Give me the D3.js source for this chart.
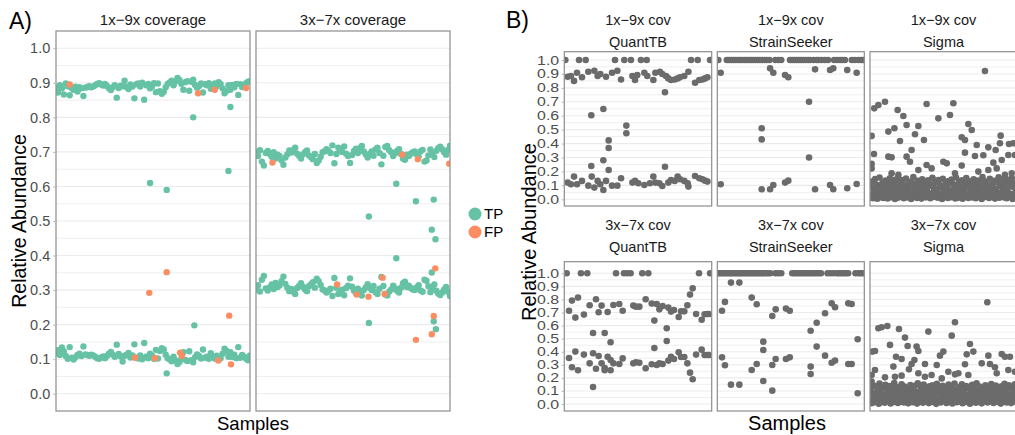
<!DOCTYPE html>
<html><head><meta charset="utf-8">
<script src="https://cdn.jsdelivr.net/npm/d3@7"></script>
<style>
body{margin:0;background:#fff;}
svg{display:block;font-family:"Liberation Sans",Arial,Helvetica,sans-serif;}
</style></head><body>
<svg id="chart" width="1015" height="435"></svg>
<script>
// ---------------- DATA ----------------
const tickLabels = [0,0.1,0.2,0.3,0.4,0.5,0.6,0.7,0.8,0.9,1.0];
const panelATitles = ["1x\u22129x coverage","3x\u22127x coverage"];
const panelBRows = ["1x\u22129x cov","3x\u22127x cov"];
const panelBTools = ["QuantTB","StrainSeeker","Sigma"];
const legendLabels = ["TP","FP"];

// Panel A, 1x-9x: per-sample major / minor strain abundance (TP)
const a1Major = [
0.886,0.872,0.893,0.884,0.866,0.898,0.890,0.864,0.885,0.880,
0.889,0.875,0.887,0.884,0.862,0.886,0.888,0.890,0.887,0.889,
0.893,0.897,0.899,0.895,0.892,0.897,0.891,0.884,0.879,0.887,
0.893,0.857,0.885,0.892,0.890,0.906,0.888,0.882,0.895,0.889,
0.855,0.896,0.898,0.889,0.900,0.851,0.893,0.897,0.884,0.889,
0.899,0.873,0.898,0.876,0.868,0.874,0.887,0.897,0.901,0.906,
0.893,0.904,0.914,0.908,0.897,0.880,0.902,0.905,0.877,0.903,
0.909,0.894,0.886,0.891,0.898,0.872,0.896,0.893,0.899,0.883,
0.894,0.898,0.890,0.902,0.897,0.884,0.870,0.876,0.893,0.880,
0.894,0.887,0.897,0.865,0.896,0.888,0.893,0.899,0.903,0.905];
const a1Minor = [
0.118,0.126,0.112,0.134,0.123,0.109,0.101,0.135,0.104,0.099,
0.106,0.112,0.116,0.109,0.137,0.114,0.112,0.110,0.113,0.111,
0.107,0.103,0.101,0.105,0.108,0.103,0.109,0.116,0.121,0.113,
0.107,0.142,0.115,0.108,0.093,0.110,0.112,0.118,0.105,0.111,
0.143,0.104,0.102,0.111,0.100,0.147,0.107,0.103,0.116,0.111,
0.101,0.127,0.102,0.124,0.132,0.128,0.113,0.103,0.099,0.094,
0.107,0.096,0.086,0.092,0.103,0.120,0.098,0.095,0.123,0.097,
0.091,0.106,0.114,0.109,0.102,0.128,0.104,0.107,0.101,0.117,
0.106,0.102,0.110,0.098,0.103,0.116,0.130,0.124,0.107,0.120,
0.106,0.113,0.103,0.135,0.104,0.112,0.107,0.101,0.097,0.111];
// [sample, abundance, class]
const a1Extra = [
[48,0.61,"TP"],[56.5,0.59,"TP"],[70,0.80,"TP"],[88,0.645,"TP"],[89,0.83,"TP"],[70.6,0.198,"TP"],[56.5,0.059,"TP"],
[7,0.895,"FP"],[72.5,0.87,"FP"],[81,0.88,"FP"],[97,0.885,"FP"],[47.6,0.292,"FP"],[56.5,0.352,"FP"],[88.4,0.226,"FP"],
[89.3,0.085,"FP"],[40.3,0.104,"FP"],[50.5,0.103,"FP"],[63.3,0.119,"FP"],[64.3,0.109,"FP"],[82.8,0.096,"FP"]];

// Panel A, 3x-7x
const a2Major = [
0.700,0.688,0.705,0.672,0.661,0.697,0.703,0.694,0.686,0.699,
0.681,0.692,0.688,0.676,0.663,0.684,0.693,0.704,0.698,0.706,
0.712,0.695,0.689,0.681,0.693,0.699,0.704,0.690,0.685,0.679,
0.694,0.668,0.675,0.686,0.699,0.702,0.708,0.703,0.697,0.719,
0.667,0.694,0.712,0.706,0.700,0.716,0.695,0.688,0.668,0.691,
0.703,0.709,0.697,0.711,0.717,0.701,0.693,0.684,0.694,0.701,
0.689,0.707,0.712,0.697,0.664,0.689,0.714,0.717,0.705,0.699,
0.688,0.696,0.703,0.708,0.694,0.681,0.677,0.692,0.688,0.695,
0.699,0.701,0.693,0.687,0.702,0.706,0.672,0.675,0.690,0.707,
0.694,0.685,0.703,0.711,0.715,0.708,0.699,0.692,0.706,0.718];
const a2Minor = [
0.302,0.314,0.296,0.330,0.341,0.305,0.299,0.308,0.316,0.303,
0.321,0.309,0.313,0.326,0.339,0.318,0.307,0.297,0.303,0.295,
0.289,0.306,0.312,0.320,0.309,0.302,0.297,0.311,0.316,0.323,
0.307,0.333,0.326,0.315,0.302,0.299,0.293,0.298,0.304,0.283,
0.335,0.307,0.289,0.295,0.301,0.285,0.306,0.313,0.334,0.310,
0.298,0.292,0.304,0.290,0.284,0.300,0.308,0.317,0.307,0.300,
0.312,0.294,0.289,0.304,0.338,0.312,0.287,0.284,0.296,0.302,
0.313,0.305,0.298,0.293,0.307,0.320,0.324,0.309,0.313,0.306,
0.302,0.300,0.308,0.314,0.299,0.295,0.330,0.327,0.311,0.294,
0.307,0.316,0.298,0.290,0.286,0.293,0.302,0.309,0.295,0.283];
const a2Extra = [
[57.6,0.513,"TP"],[71.6,0.608,"TP"],[81.6,0.557,"TP"],[90.7,0.562,"TP"],[89.7,0.475,"TP"],[91.6,0.447,"TP"],
[71.6,0.392,"TP"],[89.7,0.351,"TP"],[57.6,0.205,"TP"],[90.7,0.21,"TP"],[91.8,0.187,"TP"],
[8.4,0.669,"FP"],[74.6,0.692,"FP"],[82.6,0.679,"FP"],[98.6,0.666,"FP"],[91.5,0.363,"FP"],[64.6,0.336,"FP"],
[41.4,0.316,"FP"],[51.4,0.287,"FP"],[57.4,0.281,"FP"],[65.6,0.289,"FP"],[90.7,0.225,"FP"],[89.7,0.172,"FP"],[81.6,0.156,"FP"]];

// Panel B, 1x-9x  [sample, abundance]
const qt1 = [
[0.7,1],[10,1],[14.5,1],[34.4,1],[40.7,1],[45.2,1],[52,1],[55.9,1],[86,1],[90.5,1],[98.9,1],
[2.3,.88],[4.5,.885],[6.6,.85],[8.6,.909],[12,.876],[16.3,.916],[20.4,.923],[22.6,.885],[24.4,.9],[28.3,.88],
[32.4,.909],[36,.923],[38.5,.86],[46.2,.885],[48,.856],[49.5,.892],[54.3,.909],[56.3,.885],[60.4,.856],[61.8,.909],
[64.9,.916],[66.5,.9],[69,.885],[70.6,.868],[72.4,.856],[74.9,.86],[76.9,.868],[78.5,.876],[81.4,.885],[84.2,.916],
[88.7,.837],[91.6,.856],[93.7,.86],[95.5,.868],[97.1,.876],[68.3,.768],
[18.3,.603],[26.5,.648],[30.1,.423],[30.1,.368],[30.1,.21],[42.1,.529],[42.1,.474],[18.3,.239],[26.5,.28],[68.3,.234],
[2.3,.12],[4.5,.108],[6.6,.163],[8.6,.108],[12,.132],[16.3,.098],[18.6,.163],[20.4,.084],[22.6,.132],[24.4,.108],
[26.5,.067],[28.3,.132],[32.4,.098],[36,.098],[38.5,.151],[46.2,.12],[48,.132],[50.2,.115],[54.3,.103],[58.1,.115],
[60.4,.163],[61.8,.12],[64.5,.115],[66.5,.096],[70.6,.12],[72.4,.139],[74.9,.132],[76.9,.163],[78.5,.144],[81.4,.132],
[83.7,.115],[84.2,.091],[88.7,.167],[91.6,.151],[93.7,.144],[95.5,.134],[97.1,.127]];
const ss1Full = [0.7,6.5,8,9.5,11,12.5,14,15.5,17,18.5,20,21.5,23,24.5,26,27.5,29,30.5,32,33.5,35.5,
39.5,41.5,43.5,49.5,51,52.5,54,55.5,57,58.5,60,61.8,63.2,65.5,67.5,69,71,73,75.3,79.5,81.5,83.5,85,86.8,91.5,93.5,96,98,99.3];
const ss1 = [
[2.3,.909],[2.3,.108],[30.2,.51],[30.2,.43],[30.2,.072],[35.9,.94],[35.9,.072],[38.1,.909],[38.1,.103],
[46.1,.892],[46.1,.12],[48.3,.876],[48.3,.134],[62.4,.7],[62.4,.3],[66.5,.933],[66.5,.072],[76.7,.928],[76.7,.103],
[78.9,.94],[78.9,.072],[88.4,.928],[88.4,.079],[94.8,.909],[94.8,.11]];
const sg1 = [
[78.2,.921],[2.9,.653],[5.7,.677],[10.2,.7],[38.5,.684],[56.7,.689],[18.8,.641],[22.7,.598],[46.5,.581],[54.4,.605],
[1.1,.455],[12.5,.486],[16.6,.51],[24.9,.533],[32.9,.526],[20.4,.419],[30.6,.467],[36.7,.426],[66.9,.541],[69.2,.498],
[62.4,.445],[64.6,.426],[72.6,.39],[80.5,.373],[88.9,.457],[88.4,.402],[85.5,.354],[94.6,.397],[97.5,.402],[98.6,.318],
[2.7,.325],[12.5,.306],[14.7,.301],[24.9,.306],[27.2,.27],[28.3,.354],[64.6,.335],[71.4,.311],[77.1,.316],[83.9,.263],
[89.6,.282],[94.1,.318],[49.9,.27],[52.2,.258],[62.4,.242],[1.1,.254],[1.1,.222],[14.7,.187],[19.3,.175],[32.9,.21],
[38.5,.246],[41.9,.222],[57.8,.187],[73.7,.199],[80.5,.21],[86.2,.222],[91.8,.175],[96.4,.187]];
const sg1LowA = [
0.012,0.035,0.008,0.052,0.021,0.004,0.041,0.017,0.062,0.009,0.028,0.046,0.006,0.033,0.015,0.058,0.024,0.003,0.039,0.011,
0.049,0.019,0.031,0.007,0.055,0.026,0.013,0.044,0.002,0.036,0.018,0.061,0.010,0.029,0.047,0.005,0.022,0.038,0.014,0.053,
0.027,0.008,0.043,0.016,0.034,0.059,0.011,0.025,0.040,0.003,0.050,0.020,0.032,0.009,0.045,0.015,0.057,0.023,0.006,0.037,
0.012,0.048,0.030,0.004,0.054,0.018,0.039,0.010,0.026,0.063,0.013,0.035,0.007,0.042,0.021,0.051,0.002,0.031,0.016,0.044,
0.027,0.009,0.056,0.019,0.036,0.005,0.048,0.024,0.011,0.040,0.060,0.014,0.033,0.007,0.046,0.020,0.038,0.003,0.029,0.052];
const sg1LowB = [
0.092,0.128,0.071,0.145,0.104,0.083,0.156,0.097,0.118,0.066,0.134,0.088,0.112,0.151,0.075,0.123,0.099,0.141,0.069,0.115,
0.086,0.138,0.107,0.079,0.149,0.094,0.126,0.072,0.117,0.159,0.101,0.084,0.132,0.109,0.068,0.143,0.091,0.121,0.077,0.136,
0.113,0.095,0.154,0.082,0.125,0.070,0.139,0.103,0.087,0.147,0.074,0.119,0.098,0.131,0.065,0.142,0.108,0.089,0.157,0.080,
0.124,0.096,0.137,0.073,0.116,0.152,0.085,0.129,0.100,0.067,0.144,0.111,0.078,0.135,0.093,0.120,0.160,0.081,0.127,0.105,
0.069,0.148,0.090,0.114,0.133,0.076,0.122,0.158,0.097,0.140,0.083,0.110,0.146,0.071,0.130,0.102,0.153,0.088,0.119,0.075];

// Panel B, 3x-7x
const qt2 = [
[1.6,1],[11.3,1],[15.6,1],[35.1,1],[40.5,1],[42.8,1],[45,1],[52.9,1],[57,1],[91.4,1],[98.9,1],
[3.2,.714],[5.2,.791],[7.5,.661],[9.3,.814],[13.3,.684],[17.2,.755],[21.5,.801],[23.3,.702],[25.3,.753],[29.4,.704],
[33.3,.758],[37.3,.765],[39.6,.714],[46.8,.753],[48.6,.745],[50.9,.745],[55.2,.801],[59.3,.768],[61.1,.638],[62.7,.765],
[64.5,.724],[66.7,.75],[70.6,.737],[72.4,.707],[74.4,.719],[77.6,.666],[79.2,.709],[81.4,.709],[83.5,.755],[85.3,.837],
[87.1,.885],[89.4,.689],[93.2,.645],[95.2,.686],[97.1,.689],[98.2,.689],
[19.5,.543],[27.4,.543],[31.4,.472],[69.5,.579],[69.5,.482],[61.1,.429],
[3.2,.352],[5.2,.281],[7.5,.401],[9.3,.258],[13.3,.378],[17.2,.311],[19.5,.388],[19.5,.13],[21.5,.27],[23.3,.367],
[25.3,.311],[27.4,.276],[27.4,.258],[29.4,.362],[31.4,.337],[31.4,.258],[33.3,.311],[37.3,.306],[39.6,.349],[46.8,.311],
[48.6,.319],[50.9,.316],[55.2,.273],[59.3,.304],[62.7,.298],[64.5,.311],[66.7,.306],[70.6,.332],[72.4,.362],[74.4,.344],
[77.6,.395],[79.2,.36],[81.4,.36],[83.5,.311],[85.3,.24],[87.1,.189],[89.4,.378],[93.2,.416],[95.2,.375],[97.1,.375],[98.2,.375]];
const ss2Full = [0,1.3,2.6,3.9,5.2,6.5,7.8,9.1,10.4,11.7,13,14.3,15.6,16.9,18.2,19.5,20.8,22.1,23.4,24.7,26,27.3,28.6,
30,31.5,33,34.5,36,39.5,41.5,43.5,51,52.5,54,55.5,57,58.5,60,61.5,63,64.5,66,67.5,69,70.5,75,77,79,81.5,83,84.5,86,87.5,89,94,96,97.5,99];
const ss2 = [
[3.2,.714],[3.2,.357],[5.2,.781],[5.2,.296],[9.3,.929],[9.3,.148],[15,.929],[15,.148],[23.4,.814],[23.4,.26],
[26.8,.763],[26.8,.306],[37.4,.673],[37.4,.298],[37.4,.102],[39.7,.724],[39.7,.344],[46.7,.73],[46.7,.344],
[49.3,.714],[49.3,.357],[73.3,.694],[73.3,.37],[77.8,.77],[77.8,.316],[80.1,.74],[80.1,.332],[89.1,.77],[89.1,.306],
[91.4,.765],[91.4,.306],[67.6,.622],[67.6,.439],[63.5,.561],[63.5,.286],[63.5,.23],[31.3,.477],[31.3,.413],[31.3,.176],
[95.5,.495],[95.5,.082]];
const sg2 = [
[79.8,.778],[5.7,.579],[7.9,.587],[11.8,.597],[19.7,.574],[39.7,.554],[57.8,.625],[55.6,.523],[23.8,.508],[13.6,.452],
[25.6,.444],[31.7,.439],[68,.459],[32.9,.406],[1.6,.401],[3.4,.406],[47.6,.37],[49.9,.401],[65.8,.38],[70.3,.401],
[80.5,.37],[89.6,.383],[91.8,.362],[95.2,.362],[17.7,.362],[21.5,.344],[30.2,.337],[37.4,.306],[28.3,.306],[26.5,.265],
[15.9,.286],[3.4,.26],[32.9,.235],[64.6,.304],[76,.311],[81.6,.306],[85,.281],[86.2,.235],[94.1,.26],[98.6,.247],
[45.4,.298],[53.3,.247],[60.1,.235],[10.2,.204],[17,.209],[21.5,.217],[37.4,.209],[41.9,.222],[57.8,.227],[66.9,.222],
[48.8,.196],[1.1,.222],[1.1,.171]];
const sg2LowA = [
0.021,0.006,0.044,0.013,0.057,0.030,0.002,0.038,0.017,0.050,0.009,0.033,0.061,0.024,0.004,0.046,0.015,0.029,0.053,0.008,
0.036,0.019,0.043,0.011,0.026,0.059,0.005,0.040,0.022,0.014,0.048,0.032,0.003,0.055,0.018,0.037,0.010,0.045,0.027,0.062,
0.007,0.034,0.016,0.051,0.023,0.001,0.041,0.030,0.012,0.056,0.025,0.047,0.008,0.035,0.019,0.060,0.004,0.042,0.028,0.013,
0.049,0.020,0.037,0.006,0.054,0.031,0.015,0.044,0.002,0.039,0.024,0.058,0.010,0.033,0.047,0.017,0.005,0.052,0.026,0.040,
0.012,0.035,0.063,0.021,0.008,0.045,0.030,0.016,0.055,0.003,0.038,0.025,0.050,0.011,0.043,0.028,0.007,0.057,0.019,0.034];
const sg2LowB = [
0.118,0.087,0.142,0.074,0.131,0.099,0.156,0.081,0.124,0.066,0.147,0.105,0.090,0.137,0.072,0.116,0.160,0.094,0.128,0.079,
0.109,0.151,0.068,0.134,0.097,0.121,0.085,0.145,0.070,0.113,0.139,0.092,0.158,0.076,0.126,0.102,0.149,0.083,0.119,0.067,
0.135,0.096,0.143,0.078,0.110,0.154,0.088,0.129,0.071,0.140,0.100,0.122,0.065,0.148,0.093,0.132,0.080,0.157,0.106,0.073,
0.127,0.091,0.150,0.084,0.114,0.138,0.069,0.123,0.098,0.146,0.077,0.112,0.159,0.089,0.133,0.070,0.120,0.104,0.144,0.082,
0.130,0.095,0.152,0.075,0.117,0.141,0.086,0.125,0.064,0.136,0.103,0.155,0.081,0.115,0.143,0.072,0.128,0.093,0.150,0.108];

// ---------------- DRAWING ----------------
const svg = d3.select("#chart");
svg.append("rect").attr("width",1015).attr("height",435).attr("fill","#fff");
const COL = {TP:"#66c2a5", FP:"#fc8d62"};
const GRAY = "#6b6b6b";
const gridVals = d3.range(0,21).map(i=>+(i*0.05).toFixed(2));
let clipN = 0;

function makePanel(x0,x1,y0,y1,yScale){
  const g = svg.append("g");
  g.selectAll("line").data(gridVals).join("line")
    .attr("x1",x0).attr("x2",x1)
    .attr("y1",d=>yScale(d)).attr("y2",d=>yScale(d))
    .attr("stroke","#ebebeb")
    .attr("stroke-width",(d,i)=> i%2===0 ? 1.1 : 0.8);
  const id = "clip"+(clipN++);
  svg.append("clipPath").attr("id",id).append("rect")
    .attr("x",x0).attr("y",y0).attr("width",x1-x0).attr("height",y1-y0);
  const pts = svg.append("g").attr("clip-path",`url(#${id})`);
  return {pts, close(){
    svg.append("rect").attr("x",x0).attr("y",y0).attr("width",x1-x0).attr("height",y1-y0)
      .attr("fill","none").attr("stroke","#8c8c8c").attr("stroke-width",1.2);
  }};
}
// points: fx/fy receive (datum, index)
function dots(g, data, xs, ys, fx, fy, color, r){
  g.append("g").selectAll("circle").data(data).join("circle")
    .attr("cx",(d,i)=>xs(fx(d,i))).attr("cy",(d,i)=>ys(fy(d,i))).attr("r",r).attr("fill",color);
}
function yAxis(x, yScale, fontSize, tickLen, pad, sx){
  const ax = svg.append("g").attr("transform",`translate(${x},0)`)
    .call(d3.axisLeft(yScale).tickValues(tickLabels).tickFormat(d3.format(".1f")).tickSize(tickLen).tickPadding(pad));
  ax.select(".domain").remove();
  ax.selectAll(".tick line").attr("stroke","#b3b3b3");
  const t = ax.selectAll(".tick text").attr("fill","#4d4d4d").attr("font-size",fontSize)
    .attr("font-family","Liberation Sans, Arial, sans-serif");
  if(sx) t.attr("transform",`scale(${sx},1)`);
  return ax;
}
function text(x,y,str,size,opts={}){
  const t = svg.append("text").attr("x",x).attr("y",y).text(str)
    .attr("font-size",size).attr("fill",opts.fill||"#1a1a1a")
    .attr("text-anchor",opts.anchor||"middle");
  if(opts.rotate) t.attr("transform",`rotate(-90,${x},${y})`);
  return t;
}

// ---- Panel A ----
const yA = d3.scaleLinear().domain([-0.05,1.05]).range([411,31]);
const aPanels = [
  {x0:56, x1:250, major:a1Major, minor:a1Minor, extra:a1Extra, title:panelATitles[0]},
  {x0:256, x1:450, major:a2Major, minor:a2Minor, extra:a2Extra, title:panelATitles[1]}
];
aPanels.forEach(p=>{
  const xs = d3.scaleLinear().domain([0,99]).range([p.x0,p.x1]);
  const P = makePanel(p.x0,p.x1,31,411,yA);
  dots(P.pts, p.major, xs, yA, (d,i)=>i, d=>d, COL.TP, 3.2);
  dots(P.pts, p.minor, xs, yA, (d,i)=>i, d=>d, COL.TP, 3.2);
  dots(P.pts, p.extra.filter(d=>d[2]==="TP"), xs, yA, d=>d[0], d=>d[1], COL.TP, 3.2);
  dots(P.pts, p.extra.filter(d=>d[2]==="FP"), xs, yA, d=>d[0], d=>d[1], COL.FP, 3.2);
  P.close();
  text((p.x0+p.x1)/2, 25, p.title, 15);
});
yAxis(56, yA, 14.5, 2.75, 3);
text(26, 221, "Relative Abundance", 19.5, {fill:"#000", rotate:true});
text(253, 430, "Samples", 18.5, {fill:"#000"});
text(9, 29, "A)", 23, {fill:"#000", anchor:"start"});
// legend
legendLabels.forEach((l,i)=>{
  svg.append("circle").attr("cx",475).attr("cy",214+i*18).attr("r",6.5).attr("fill",COL[l]);
  svg.append("text").attr("x",484).attr("y",214+i*18).attr("dy","0.36em").text(l)
    .attr("font-size",15).attr("fill","#000");
});

// ---- Panel B ----
const bCols = [[564.3,711.7],[717.3,864.3],[870,1017]];
const bRows = [
  {y0:51.7, y1:206, y1v:60, y0v:199.3, s1:25, s2:46.5,
   qt:qt1, ssFull:ss1Full, ss:ss1, sg:sg1, lowA:sg1LowA, lowB:sg1LowB},
  {y0:261.7, y1:411, y1v:273.3, y0v:404, s1:230, s2:251.5,
   qt:qt2, ssFull:ss2Full, ss:ss2, sg:sg2, lowA:sg2LowA, lowB:sg2LowB}
];
bRows.forEach((row,ri)=>{
  const ys = d3.scaleLinear().domain([0,1]).range([row.y0v,row.y1v]);
  bCols.forEach((c,ci)=>{
    const xs = d3.scaleLinear().domain([0,100]).range([c[0],c[1]]);
    const P = makePanel(c[0],c[1],row.y0,row.y1,ys);
    const R = 3.3;
    if(ci===0){
      dots(P.pts, row.qt, xs, ys, d=>d[0], d=>d[1], GRAY, R);
    } else if(ci===1){
      dots(P.pts, row.ssFull, xs, ys, d=>d, d=>1, GRAY, R);
      dots(P.pts, row.ss, xs, ys, d=>d[0], d=>d[1], GRAY, R);
    } else {
      dots(P.pts, row.lowA, xs, ys, (d,i)=>i, d=>d, GRAY, R);
      dots(P.pts, row.lowB, xs, ys, (d,i)=>i+0.5, d=>d, GRAY, R);
      dots(P.pts, row.sg, xs, ys, d=>d[0], d=>d[1], GRAY, R);
    }
    P.close();
    text((c[0]+c[1])/2, row.s1, panelBRows[ri], 14.5);
    text((c[0]+c[1])/2, row.s2, panelBTools[ci], 14.5);
  });
  yAxis(564.3, ys, 12.5, 2.5, 1.6, 1.27);
});
text(536, 232, "Relative Abundance", 20, {fill:"#000", rotate:true});
text(787, 430, "Samples", 20, {fill:"#000"});
text(506, 28, "B)", 23, {fill:"#000", anchor:"start"});
</script>
</body></html>
